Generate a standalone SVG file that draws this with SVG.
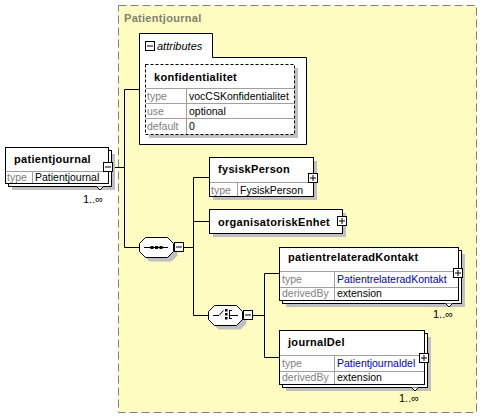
<svg xmlns="http://www.w3.org/2000/svg" width="495" height="419" viewBox="0 0 495 419">
<style>
text{font-family:"Liberation Sans",Arial,sans-serif;font-size:10.5px}
.t{font-size:11px;font-weight:bold;letter-spacing:0.3px;fill:#000}
.k{fill:#808080}
.v{fill:#000}
.b{fill:#0000C0}
.box{fill:#fff;stroke:#000;stroke-width:1}
.sh{fill:#C0C0C0}
.row{stroke:#A0A0A0;stroke-width:1;fill:none}
.ln{stroke:#000;stroke-width:1;fill:none}
.btn{fill:#fff;stroke:#000;stroke-width:1}
</style>
<defs>
<path id="seqshape" d="M145.5,237.5 H167.5 L173.5,243.5 V251.5 L167.5,257.5 H145.5 L139.5,251.5 V243.5 Z"/>
<path id="chshape" d="M214.5,305.5 H236.5 L242.5,311.5 V319.5 L236.5,325.5 H214.5 L208.5,319.5 V311.5 Z"/>
</defs>
<rect width="495" height="419" fill="#fff"/>

<g id="container">
<rect x="118.5" y="5.5" width="358" height="407" fill="#FFFCC2" stroke="#808080" stroke-dasharray="8 4"/>
<text x="124" y="22" class="t" style="fill:#808070">Patientjournal</text>
</g>

<g id="connectors">
<path class="ln" d="M113,167.5 H124.5 M124.5,89.5 V247.5 M124.5,89.5 H139 M124.5,247.5 H139 M183,247.5 H193.5 M193.5,177.5 V315.5 M193.5,177.5 H209 M193.5,221.5 H209 M193.5,315.5 H208 M252,315.5 H264.5 M264.5,273.5 V357.5 M264.5,273.5 H279 M264.5,357.5 H279"/>
</g>

<g id="attributes">
<path class="box" d="M139.5,33.5 H212.5 V57.5 H306.5 V144.5 H139.5 Z"/>
<rect x="145.5" y="41.5" width="9" height="9" class="btn"/>
<path class="ln" d="M147,46 H153"/>
<text x="157" y="50" style="font-style:italic;font-size:11px">attributes</text>
</g>

<g id="konfidentialitet">
<rect x="149" y="68" width="149" height="70" class="sh"/>
<rect x="145.5" y="64.5" width="149" height="70" fill="#fff" stroke="#000" stroke-dasharray="3 2"/>
<text x="154" y="81" class="t">konfidentialitet</text>
<path class="row" d="M146,88.5 H294 M146,103.5 H294 M146,118.5 H294 M186.5,89 V134"/>
<text x="147" y="100" class="k">type</text>
<text x="189" y="100" class="v">vocCSKonfidentialitet</text>
<text x="147" y="114.5" class="k">use</text>
<text x="189" y="114.5" class="v">optional</text>
<text x="147" y="129.5" class="k">default</text>
<text x="189" y="129.5" class="v">0</text>
</g>

<g id="patientjournal">
<rect x="12" y="154" width="103" height="36" class="sh"/>
<rect x="8.5" y="150.5" width="103" height="36" class="box"/>
<rect x="5.5" y="147.5" width="103" height="36" class="box"/>
<path class="row" d="M6,171.5 H108 M32.5,172 V183"/>
<text x="14" y="163" class="t">patientjournal</text>
<text x="7" y="181" class="k">type</text>
<text x="35" y="181" class="v">Patientjournal</text>
<rect x="103.5" y="162.5" width="9" height="9" class="btn"/>
<path class="ln" d="M105,167 H111"/>
<path d="M96.5,186.5 L100,190 L103.5,186.5" fill="#fff" stroke="#000"/>
<text x="83" y="203" class="v" style="font-size:11px">1..∞</text>
</g>

<g id="sequence">
<use href="#seqshape" transform="translate(4,4)" class="sh"/>
<use href="#seqshape" class="box"/>
<path class="ln" d="M144,247.5 H168"/>
<rect x="150.5" y="246" width="3" height="3" fill="#000"/>
<rect x="155" y="246" width="3" height="3" fill="#000"/>
<rect x="159.5" y="246" width="3" height="3" fill="#000"/>
<rect x="174.5" y="242.5" width="9" height="9" class="btn"/>
<path class="ln" d="M176,247 H182"/>
</g>

<g id="fysiskPerson">
<rect x="213" y="161" width="104" height="39" class="sh"/>
<rect x="209.5" y="157.5" width="104" height="39" class="box"/>
<path class="row" d="M210,182.5 H313 M237.5,183 V196"/>
<text x="218" y="173" class="t">fysiskPerson</text>
<text x="211" y="193.5" class="k">type</text>
<text x="240" y="193.5" class="v">FysiskPerson</text>
<rect x="308.5" y="173.5" width="9" height="9" class="btn"/>
<path class="ln" d="M310,178 H316 M313,175 V181"/>
</g>

<g id="organisatoriskEnhet">
<rect x="213" y="213" width="133" height="24" class="sh"/>
<rect x="209.5" y="209.5" width="133" height="24" class="box"/>
<text x="218" y="225.5" class="t">organisatoriskEnhet</text>
<rect x="337.5" y="216.5" width="9" height="9" class="btn"/>
<path class="ln" d="M339,221 H345 M342,218 V224"/>
</g>

<g id="choice">
<use href="#chshape" transform="translate(4,4)" class="sh"/>
<use href="#chshape" class="box"/>
<path class="ln" d="M213,315.5 H219 L223.5,310.5 M229.5,310 V319 M229.5,310.5 H232 M229.5,315.5 H238 M229.5,318.5 H232"/>
<rect x="225" y="309" width="2.5" height="2.5" fill="#000"/>
<rect x="225" y="313" width="2.5" height="2.5" fill="#000"/>
<rect x="225" y="317" width="2.5" height="2.5" fill="#000"/>
<rect x="243.5" y="310.5" width="9" height="9" class="btn"/>
<path class="ln" d="M245,315 H251"/>
</g>

<g id="patientrelateradKontakt">
<rect x="286" y="254" width="179" height="53" class="sh"/>
<rect x="282.5" y="250.5" width="179" height="53" class="box"/>
<rect x="279.5" y="247.5" width="179" height="53" class="box"/>
<path class="row" d="M280,271.5 H458 M280,287.5 H458 M334.5,272 V300"/>
<text x="288" y="261" class="t">patientrelateradKontakt</text>
<text x="282" y="283" class="k">type</text>
<text x="337" y="283" class="b">PatientrelateradKontakt</text>
<text x="282" y="297" class="k">derivedBy</text>
<text x="337" y="297" class="v">extension</text>
<rect x="453.5" y="268.5" width="9" height="9" class="btn"/>
<path class="ln" d="M455,273 H461 M458,270 V276"/>
<path d="M445.5,303.5 L449,307 L452.5,303.5" fill="#fff" stroke="#000"/>
<text x="433" y="318" class="v" style="font-size:11px">1..∞</text>
</g>

<g id="journalDel">
<rect x="286" y="337" width="145" height="54" class="sh"/>
<rect x="282.5" y="333.5" width="145" height="54" class="box"/>
<rect x="279.5" y="330.5" width="145" height="54" class="box"/>
<path class="row" d="M280,355.5 H424 M280,371.5 H424 M334.5,356 V384"/>
<text x="288" y="346" class="t">journalDel</text>
<text x="282" y="367" class="k">type</text>
<text x="337" y="367" class="b">Patientjournaldel</text>
<text x="282" y="381" class="k">derivedBy</text>
<text x="337" y="381" class="v">extension</text>
<rect x="419.5" y="353.5" width="9" height="9" class="btn"/>
<path class="ln" d="M421,358 H427 M424,355 V361"/>
<path d="M411.5,387.5 L415,391 L418.5,387.5" fill="#fff" stroke="#000"/>
<text x="399" y="402" class="v" style="font-size:11px">1..∞</text>
</g>
</svg>
